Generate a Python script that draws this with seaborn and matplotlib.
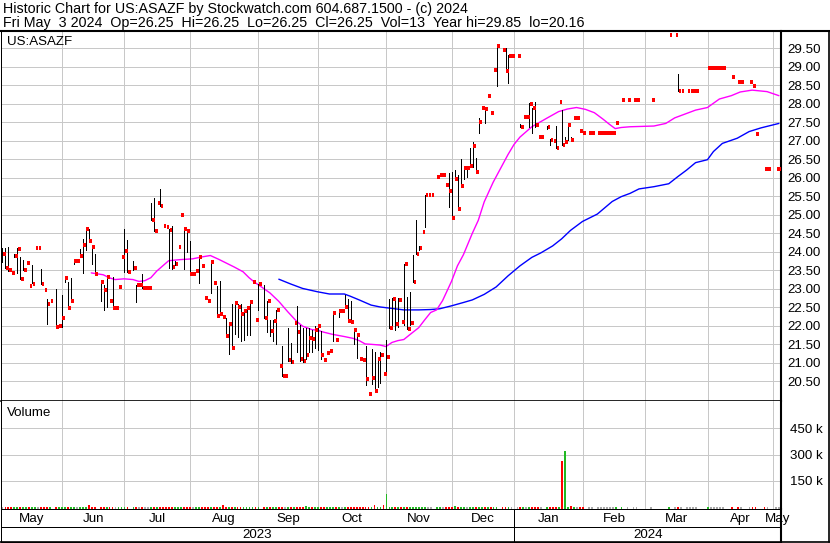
import numpy as np
import pandas as pd
import matplotlib
matplotlib.use("Agg")
import matplotlib.pyplot as plt
import seaborn as sns
from matplotlib.lines import Line2D
from matplotlib.ticker import FormatStrFormatter

N = None
# ---------------- data (one value per weekday, 2023-05-04 .. 2024-05-03) ----------------
close = [
    # May 2023
    23.95, 23.56, 23.51, 23.44, 23.90, 24.07, 23.27, 23.51, 23.71, 23.08, 23.14, 24.11, 24.11, 23.13, 22.97, 22.60, 22.68, N, 21.98, 22.00,
    # Jun
    22.21, 23.30, 22.49, 22.67, 23.76, 23.76, 23.90, 24.18, 24.62, 24.29, 24.13, 23.40, N, 23.18, 22.98, 23.32, 22.68, 22.47, 22.47, 23.04, 23.87, 24.02,
    # Jul
    23.45, N, 23.56, 23.10, 23.10, 23.02, 23.02, 23.02, 24.86, 24.56, 25.32, 25.23, 24.71, 24.68, 24.60, 23.58, 23.66, 24.13, 24.99, 24.63, 24.55,
    # Aug
    23.40, 23.40, 23.48, 23.85, 23.61, 22.76, 22.67, 23.72, 23.15, 22.26, 22.33, 22.23, 21.72, 22.06, 21.40, 22.61, 22.50, 22.33, 22.40, 22.48, 22.64, 23.18, 22.17,
    # Sep
    23.13, N, 22.20, 22.66, 21.85, 22.14, 22.42, 20.91, 20.65, 20.65, 21.07, 21.02, 22.07, 21.82, 21.11, 21.04, 21.22, 21.67, 21.64, 21.89, 21.99,
    # Oct
    21.21, 21.07, 21.27, 21.33, 22.35, 21.62, 22.41, 22.41, 22.52, 22.13, 22.09, 21.88, 21.75, 21.11, 21.08, 20.57, 20.16, 20.60, 20.25, 21.10, 21.22, 20.71,
    # Nov
    21.17, 21.95, 22.72, 22.04, 22.70, 22.09, 23.68, 21.92, 22.07, 23.19, 23.94, 24.09, 24.54, 25.54, 25.54, 25.54, N, 26.03, 26.08, 26.08, 25.81, 25.65,
    # Dec
    24.92, 25.96, 25.17, 25.79, 26.27, 26.27, 26.32, 26.86, 26.17, 27.52, 27.90, 27.86, 28.21, 27.76, 28.91, 29.57, N, 29.45, 28.90, 29.30, 29.30,
    # Jan 2024
    N, 29.30, 27.38, 27.65, 27.65, 27.99, 27.90, 27.43, 27.11, 27.11, N, 27.38, 27.02, 27.00, 26.81, 28.06, 26.90, 26.98, 27.44, 27.02, 27.63, 27.63, 27.27,
    # Feb
    27.22, N, 27.22, 27.22, N, 27.22, 27.22, 27.22, 27.22, 27.22, 27.22, 27.48, N, 28.10, N, 28.10, N, 28.10, 28.10, N, N,
    # Mar
    N, N, 28.10, N, N, N, N, N, 29.85, N, 29.85, 28.35, 28.35, N, 28.35, 28.35, 28.35, 28.35, N, N, N,
    # Apr
    28.98, 28.98, 28.98, 28.98, 28.98, 28.98, N, N, 28.73, N, 28.60, 28.60, N, N, 28.60, 28.49, 27.19, N, N, 26.25, 26.25, N,
    # May
    N, 26.25, 26.25,
]

high = [
    24.10, 24.09, 24.12, N, 23.93, 24.09, 23.85, 23.78, N, N, 23.64, N, N, 23.53, N, 22.72, N, N, 22.99, N,
    22.83, 23.33, 23.19, 23.28, 23.79, N, 24.07, 24.34, 24.62, 24.62, 24.13, 23.93, N, 23.18, 23.10, 23.32, N, 23.32, N, N, N, 24.62,
    24.33, N, 23.74, 23.10, N, 23.41, N, N, 25.31, 25.46, N, 25.71, N, N, 24.62, 24.71, 23.75, N, N, 24.64, 24.57,
    24.29, N, N, 23.86, N, N, N, 23.73, N, 23.07, 23.22, N, 22.20, 22.08, 22.58, 22.62, 22.58, 22.59, 22.40, 22.50, 22.65, N, N,
    23.14, N, 23.09, 22.67, 22.17, 22.16, 22.43, N, 21.46, N, 21.94, 21.54, N, 22.54, 22.03, 21.95, 21.95, 21.95, 21.90, 21.99, 22.00,
    21.85, N, N, N, 22.35, N, 22.42, N, 22.83, 22.72, 22.66, 21.90, 21.80, N, N, 21.46, N, 21.38, 21.30, 21.11, 21.30, N,
    21.62, 22.72, 22.74, 22.72, 22.74, N, 23.68, 22.79, 22.92, 23.91, 24.86, 24.15, N, 25.54, N, N, N, N, N, N, N, 26.12,
    26.16, 26.20, 26.08, 26.51, 26.28, 26.30, 26.80, 26.96, 26.53, 27.63, N, 27.88, N, N, N, 29.59, N, N, 29.50, 29.32, N,
    N, N, 27.45, N, N, 28.01, 27.90, 28.06, N, N, N, 27.41, 27.04, N, 27.40, N, 27.83, 27.09, 27.44, 27.11, N, N, N,
    N, N, N, N, N, N, N, N, N, N, N, N, N, N, N, N, N, N, N, N, N,
    N, N, N, N, N, N, N, N, N, N, N, 28.80, N, N, N, N, N, N, N, N, N,
    N, N, N, N, N, N, N, N, N, N, N, N, N, N, N, N, N, N, N, N, N, N,
    N, N, N,
]

low = [
    23.72, 23.55, 23.48, N, 23.85, 23.42, 23.26, 23.51, N, N, 23.15, N, N, 23.12, N, 22.05, N, N, 21.96, N,
    21.98, 23.19, 22.49, 22.65, 23.66, N, 23.89, 23.44, 24.04, 24.29, 23.68, 23.41, N, 22.68, 22.42, 22.52, N, 22.47, N, N, N, 23.45,
    23.45, N, 23.52, 22.64, N, 23.02, N, N, 24.86, 24.56, N, 25.23, N, N, 23.57, 23.54, 23.64, N, N, 23.54, 23.99,
    23.38, N, N, 23.16, N, N, N, 22.89, N, 22.26, 22.33, N, 21.72, 21.24, 21.40, 21.77, 21.69, 21.59, 21.63, 21.75, 21.75, N, N,
    22.42, N, 22.20, 21.84, 21.72, 21.60, 21.51, N, 20.65, N, 21.05, 21.00, N, 21.30, 21.06, 21.03, 21.10, 21.30, 21.30, 21.39, 21.35,
    21.10, N, N, N, 21.60, N, 22.23, N, 22.48, 22.11, 22.08, 21.50, 21.12, N, N, 20.40, N, 20.42, 20.25, 20.35, 20.45, N,
    20.76, 21.95, 22.02, 21.89, 21.98, N, 22.02, 21.92, 22.02, 23.19, 23.94, 24.06, N, 24.67, N, N, N, N, N, N, N, 25.20,
    24.91, 25.94, 25.16, 25.76, 25.96, 26.03, 26.30, 26.30, 26.17, 27.22, N, 27.49, N, N, N, 28.49, N, N, 28.87, 28.57, N,
    N, N, 27.36, N, N, 27.36, 27.22, 27.38, N, N, N, 27.32, 26.89, N, 26.80, N, 26.89, 26.96, 27.02, 27.02, N, N, N,
    N, N, N, N, N, N, N, N, N, N, N, N, N, N, N, N, N, N, N, N, N,
    N, N, N, N, N, N, N, N, N, N, N, 28.35, N, N, N, N, N, N, N, N, N,
    N, N, N, N, N, N, N, N, N, N, N, N, N, N, N, N, N, N, N, N, N, N,
    N, N, N,
]

volume = [
    1200, 800, 1500, 600, 400, 2100, 1800, 900, 500, 700, 1300, 600, 400, 1100, 500, 2500, 700, 0, 1600, 600,
    1900, 700, 1400, 1000, 600, 500, 800, 1700, 2200, 9800, 1100, 1300, 0, 900, 1500, 1200, 600, 1400, 500, 700, 600, 1800,
    1500, 0, 800, 1200, 400, 1000, 500, 300, 2100, 1600, 700, 1900, 600, 500, 1400, 1800, 600, 700, 800, 1300, 1100,
    1700, 500, 600, 1500, 700, 900, 600, 1600, 800, 1900, 2000, 12000, 1500, 1800, 2200, 1600, 1700, 2400, 1500, 1300, 1600, 700, 900,
    1400, 0, 1800, 1600, 900, 1100, 1500, 800, 1900, 600, 1700, 1200, 700, 1800, 1500, 1300, 6000, 1200, 1100, 1000, 900,
    1500, 600, 700, 500, 1400, 600, 1000, 400, 1200, 1500, 1300, 1800, 1600, 700, 600, 2400, 800, 2100, 10000, 1700, 1900, 11000,
    75000, 2000, 1800, 1900, 1600, 500, 2500, 1700, 1500, 1400, 2000, 800, 600, 1800, 400, 300, 0, 500, 400, 300, 600, 1500,
    1900, 5000, 1800, 1600, 1000, 900, 1300, 1500, 1100, 1400, 600, 1200, 500, 700, 400, 2200, 0, 600, 1500, 1700, 300,
    0, 700, 900, 500, 400, 1300, 1200, 1500, 600, 500, 0, 800, 1000, 400, 1600, 700, 266000, 320000, 1800, 5000, 600, 400, 500,
    500, 0, 300, 200, 0, 400, 300, 200, 300, 200, 300, 600, 0, 700, 0, 300, 0, 400, 200, 0, 0,
    0, 0, 500, 0, 0, 0, 0, 0, 300, 0, 200, 800, 300, 0, 400, 200, 300, 200, 0, 0, 0,
    600, 300, 200, 400, 300, 200, 0, 0, 500, 0, 600, 300, 0, 0, 400, 700, 900, 0, 0, 300, 200, 0,
    0, 400, 13,
]

# moving averages (weekday number, value)
ma_fast_day = [30, 34, 36, 38, 41, 44, 46, 48, 50, 52, 54, 56, 60, 64, 67, 70, 73, 76, 78, 81, 83, 85, 87, 90,
               93, 96, 99, 101, 104, 106, 108, 111, 115, 118, 120, 122, 124, 127, 129, 131, 133, 135, 137, 140,
               142, 144, 146, 148, 151, 153, 155, 158, 160, 162, 165, 168, 170, 172, 174, 178, 183, 187, 190,
               193, 196, 199, 202, 204, 206, 208, 211, 215, 219, 223, 226, 230, 233, 237, 241, 245, 248, 252, 257, 261]
ma_fast = [23.43, 23.38, 23.30, 23.25, 23.27, 23.25, 23.20, 23.22, 23.30, 23.48, 23.62, 23.76, 23.79, 23.81, 23.86,
           23.90, 23.79, 23.67, 23.59, 23.46, 23.30, 23.17, 23.06, 22.89, 22.66, 22.38, 22.12, 21.99, 21.90, 21.88,
           21.83, 21.77, 21.71, 21.66, 21.60, 21.51, 21.50, 21.48, 21.44, 21.55, 21.60, 21.63, 21.76, 21.95, 22.16,
           22.36, 22.43, 22.68, 23.20, 23.62, 23.92, 24.50, 24.85, 25.35, 25.88, 26.33, 26.63, 26.90, 27.10, 27.38,
           27.61, 27.79, 27.86, 27.90, 27.85, 27.76, 27.58, 27.45, 27.33, 27.36, 27.38, 27.39, 27.40, 27.47, 27.62,
           27.74, 27.83, 27.90, 28.13, 28.22, 28.32, 28.37, 28.33, 28.22]
ma_slow_day = [93, 97, 101, 106, 110, 115, 117, 120, 124, 127, 131, 135, 140, 144, 147, 151, 155, 158, 162, 166,
               170, 174, 178, 181, 185, 188, 191, 195, 200, 205, 208, 211, 214, 219, 224, 227, 230, 233, 237, 239,
               242, 247, 251, 255, 259, 261]
ma_slow = [23.26, 23.13, 23.01, 22.92, 22.86, 22.86, 22.80, 22.70, 22.56, 22.51, 22.47, 22.43, 22.43, 22.44, 22.46,
           22.54, 22.63, 22.70, 22.85, 23.05, 23.35, 23.62, 23.85, 23.97, 24.16, 24.35, 24.58, 24.82, 25.02, 25.36,
           25.49, 25.58, 25.70, 25.76, 25.84, 26.03, 26.21, 26.41, 26.49, 26.71, 26.93, 27.07, 27.25, 27.35, 27.43, 27.47]

month_labels = ["May", "Jun", "Jul", "Aug", "Sep", "Oct", "Nov", "Dec", "Jan", "Feb", "Mar", "Apr", "May"]
year_labels = ["2023", "2024"]
price_ticks = [20.5, 21.0, 21.5, 22.0, 22.5, 23.0, 23.5, 24.0, 24.5, 25.0, 25.5, 26.0, 26.5, 27.0, 27.5, 28.0, 28.5, 29.0, 29.5]
volume_ticks = [150000, 300000, 450000]
volume_tick_labels = ["150 k", "300 k", "450 k"]
title1 = "Historic Chart for US:ASAZF by Stockwatch.com 604.687.1500 - (c) 2024"
title2 = "Fri May  3 2024  Op=26.25  Hi=26.25  Lo=26.25  Cl=26.25  Vol=13  Year hi=29.85  lo=20.16"

# ---------------- build ----------------
dates = pd.bdate_range("2023-05-04", "2024-05-03")
assert len(dates) == len(close) == len(high) == len(low) == len(volume)
df = pd.DataFrame({
    "date": dates,
    "close": np.array(close, dtype=float),
    "high": np.array(high, dtype=float),
    "low": np.array(low, dtype=float),
    "volume": np.array(volume, dtype=float),
})
df["day"] = np.arange(len(df))

sns.set_theme(style="white")
plt.rcParams["font.family"] = ["Liberation Sans", "DejaVu Sans"]
plt.rcParams["axes.linewidth"] = 0.75

W, H = 830, 543
fig = plt.figure(figsize=(W / 100, H / 100), dpi=100)
fig.patch.set_facecolor("white")


def box(x0, y0, x1, y1):
    return [x0 / W, 1 - y1 / H, (x1 - x0) / W, (y1 - y0) / H]


X0, X1 = 0.5, 781.0
ax = fig.add_axes(box(X0, 31, X1, 401))
axv = fig.add_axes(box(X0, 401, X1, 509))
axb = fig.add_axes(box(X0, 509, X1, 542))
XL = (-0.5, 261.7)
GRID = "#C8C8C8"
PX = 0.72  # one pixel in points
FS = 9.6

# month boundaries
month_starts = pd.date_range("2023-06-01", "2024-05-01", freq="MS")
grid_idx = [int(np.searchsorted(dates.values, m.to_datetime64(), side="right")) - 1 for m in month_starts]
grid_x = [g + 0.15 for g in grid_idx]

for a in (ax, axv, axb):
    a.set_xlim(*XL)
    a.set_facecolor("white")
    for s in a.spines.values():
        s.set_color("black")
        s.set_linewidth(PX)
    a.spines["right"].set_linewidth(1.5)

# ---- price panel ----
ax.set_ylim(19.968, 29.968)
ax.set_yticks(price_ticks)
ax.yaxis.set_major_formatter(FormatStrFormatter("%.2f"))
ax.yaxis.tick_right()
ax.set_xticks(grid_x)
ax.set_xticklabels([])
ax.tick_params(axis="both", length=0)
ax.tick_params(axis="y", pad=4.5, labelsize=FS, colors="black")
ax.grid(True, color=GRID, lw=PX)
ax.set_axisbelow(True)
ax.spines["top"].set_visible(False)
ax.spines["bottom"].set_linewidth(1.2)

sns.lineplot(x=ma_slow_day, y=ma_slow, ax=ax, color="#0000FF", linewidth=1.0,
             estimator=None, sort=False, legend=False, zorder=2)
sns.lineplot(x=ma_fast_day, y=ma_fast, ax=ax, color="#FF00FF", linewidth=1.0,
             estimator=None, sort=False, legend=False, zorder=2)

rng = df.dropna(subset=["high"])
ax.vlines(rng["day"] + 0.15, rng["low"], rng["high"], color="black", lw=0.5,
          antialiased=False, zorder=3)
trd = df.dropna(subset=["close"])
ax.hlines(trd["close"], trd["day"] + 0.3, trd["day"] + 1.25, color="#FF0000", lw=1.5,
          antialiased=False, zorder=4)
ax.set_xlabel("")
ax.set_ylabel("")

# ---- volume panel ----
VMIN, VMAX = -11450, 606900
axv.set_ylim(VMIN, VMAX)
axv.set_yticks(volume_ticks)
axv.set_yticklabels(volume_tick_labels)
axv.yaxis.tick_right()
axv.set_xticks(grid_x)
axv.set_xticklabels([])
axv.tick_params(axis="both", length=0)
axv.tick_params(axis="y", pad=6.5, labelsize=FS, colors="black")
axv.grid(True, color=GRID, lw=PX)
axv.set_axisbelow(True)
axv.spines["top"].set_visible(False)

prev = df["close"].ffill().shift(1)
colors = np.where(df["close"] > prev, "#22B822", np.where(df["close"] < prev, "#FF0000", "#A8A8A8"))
vmask = df["volume"] > 0
axv.bar(df.loc[vmask, "day"] + 0.15, df.loc[vmask, "volume"] - VMIN, bottom=VMIN, width=0.6,
        color=colors[vmask.values], linewidth=0, antialiased=False, zorder=3)

# ---- date band ----
axb.set_ylim(0, 1)
axb.set_xticks([])
axb.set_yticks([])
edges = [XL[0]] + grid_x + [XL[1]]
for k, lab in enumerate(month_labels):
    cx = (edges[k] + edges[k + 1]) / 2
    axb.text(cx, 0.69, lab, ha="center", va="center", fontsize=FS, color="black")
jan_x = grid_x[month_labels.index("Jan") - 1]
axb.axhline(0.455, color="black", lw=PX)
axb.axvline(jan_x, color="black", lw=PX)
axb.text((XL[0] + jan_x) / 2, 0.21, year_labels[0], ha="center", va="center", fontsize=FS, color="black")
axb.text((jan_x + XL[1]) / 2, 0.21, year_labels[1], ha="center", va="center", fontsize=FS, color="black")

# ---- header and frame ----
fig.text(3 / W, 1 - 8.5 / H, title1, ha="left", va="center", fontsize=10.3, color="black")
fig.text(3 / W, 1 - 22.5 / H, title2, ha="left", va="center", fontsize=10.3, color="black")
fig.text(7 / W, 1 - 42 / H, "US:ASAZF", ha="left", va="center", fontsize=FS, color="black")
fig.text(7 / W, 1 - 413 / H, "Volume", ha="left", va="center", fontsize=FS, color="black")

fig.add_artist(Line2D([0, 1], [1 - 30.8 / H] * 2, transform=fig.transFigure, color="black", lw=1.5))
fig.add_artist(Line2D([829.3 / W] * 2, [1 - 31 / H, 1 - 542 / H], transform=fig.transFigure, color="black", lw=1.2))
fig.add_artist(Line2D([0, 1], [1 - 541.8 / H] * 2, transform=fig.transFigure, color="black", lw=1.2))

fig.savefig("out.png", dpi=100, facecolor="white")
